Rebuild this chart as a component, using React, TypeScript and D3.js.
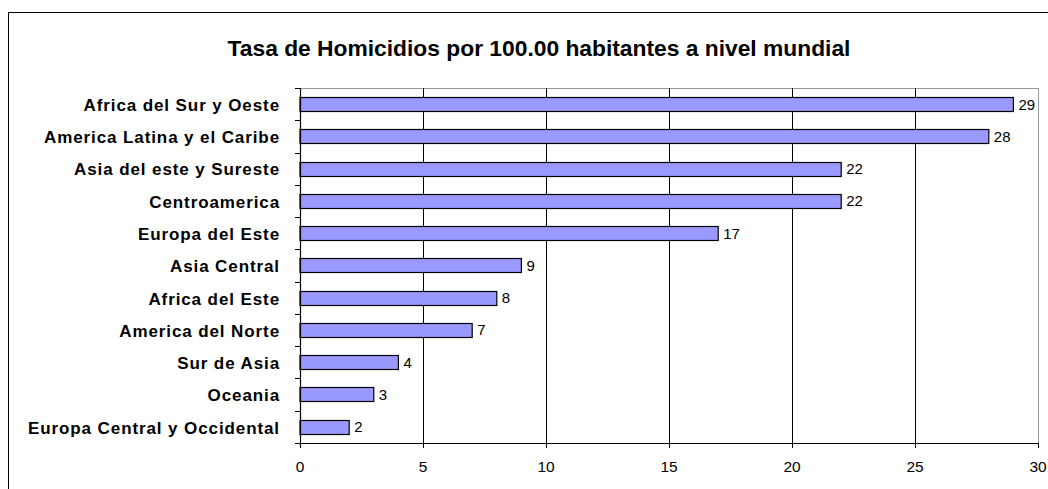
import React from 'react'
import * as d3 from 'd3'

const regions = [
  'Africa del Sur y Oeste',
  'America Latina y el Caribe',
  'Asia del este y Sureste',
  'Centroamerica',
  'Europa del Este',
  'Asia Central',
  'Africa del Este',
  'America del Norte',
  'Sur de Asia',
  'Oceania',
  'Europa Central y Occidental'
]
const rates = [29, 28, 22, 22, 17, 9, 8, 7, 4, 3, 2]
const xTicks = [0, 5, 10, 15, 20, 25, 30]
const title = 'Tasa de Homicidios por 100.00 habitantes a nivel mundial'

const W = 1048
const H = 489
const plot = { left: 300, right: 1038, top: 88, bottom: 443 }
const font = 'Arial, "Liberation Sans", sans-serif'

const App = () => {
  const x = d3.scaleLinear().domain([0, 30]).range([plot.left, plot.right])
  const y = d3
    .scaleBand()
    .domain(regions)
    .range([plot.top, plot.bottom])
    .paddingInner(0.56)
    .paddingOuter(0.28)
  const step = (plot.bottom - plot.top) / regions.length
  const bounds = d3.range(regions.length + 1).map(i => plot.top + i * step)

  return (
    <svg width={W} height={H} style={{ position: 'absolute', left: 0, top: 0 }} fontFamily={font}>
      <rect x={0} y={0} width={W} height={H} fill="#fff" />
      {/* outer chart frame, runs off the page on right and bottom */}
      <rect x={8.5} y={12.5} width={W + 20} height={H + 20} fill="none" stroke="#000" strokeWidth={1} />

      <text x={539} y={56} textAnchor="middle" fontSize={22.8} fontWeight="bold">
        {title}
      </text>

      {/* plot frame */}
      <line x1={plot.left} x2={plot.right} y1={plot.top + 0.5} y2={plot.top + 0.5} stroke="#999" />
      <line x1={plot.right + 0.5} x2={plot.right + 0.5} y1={plot.top} y2={plot.bottom} stroke="#999" />

      {/* gridlines */}
      {xTicks.slice(1, -1).map(t => (
        <line key={'g' + t} x1={Math.round(x(t)) + 0.5} x2={Math.round(x(t)) + 0.5} y1={plot.top} y2={plot.bottom} stroke="#000" />
      ))}

      {/* bars */}
      {regions.map((r, i) => (
        <g key={r}>
          <rect
            x={x(0)}
            y={Math.round(y(r)) + 0.5}
            width={x(rates[i]) - x(0)}
            height={Math.round(y.bandwidth())}
            fill="#9999ff"
            stroke="#000"
            strokeWidth={1.2}
          />
          <text x={x(rates[i]) + 5} y={y(r) + y.bandwidth() / 2} dy="0.36em" fontSize={15}>
            {rates[i]}
          </text>
          <text
            x={280}
            y={y(r) + y.bandwidth() / 2}
            dy="0.4em"
            textAnchor="end"
            fontSize={17}
            fontWeight="bold"
            letterSpacing={0.9}
          >
            {r}
          </text>
        </g>
      ))}

      {/* y axis */}
      <line x1={plot.left + 0.5} x2={plot.left + 0.5} y1={plot.top} y2={plot.bottom + 5} stroke="#000" strokeWidth={1.2} />
      {bounds.map((b, i) => (
        <line key={'yt' + i} x1={plot.left - 5} x2={plot.left} y1={Math.round(b) + 0.5} y2={Math.round(b) + 0.5} stroke="#000" />
      ))}

      {/* x axis */}
      <line x1={plot.left - 5} x2={plot.right} y1={plot.bottom + 0.5} y2={plot.bottom + 0.5} stroke="#000" strokeWidth={1.2} />
      {xTicks.map(t => (
        <g key={'xt' + t}>
          <line x1={Math.round(x(t)) + 0.5} x2={Math.round(x(t)) + 0.5} y1={plot.bottom} y2={plot.bottom + 5} stroke="#000" />
          <text x={x(t)} y={471.5} textAnchor="middle" fontSize={15.5}>
            {t}
          </text>
        </g>
      ))}
    </svg>
  )
}

export default App
